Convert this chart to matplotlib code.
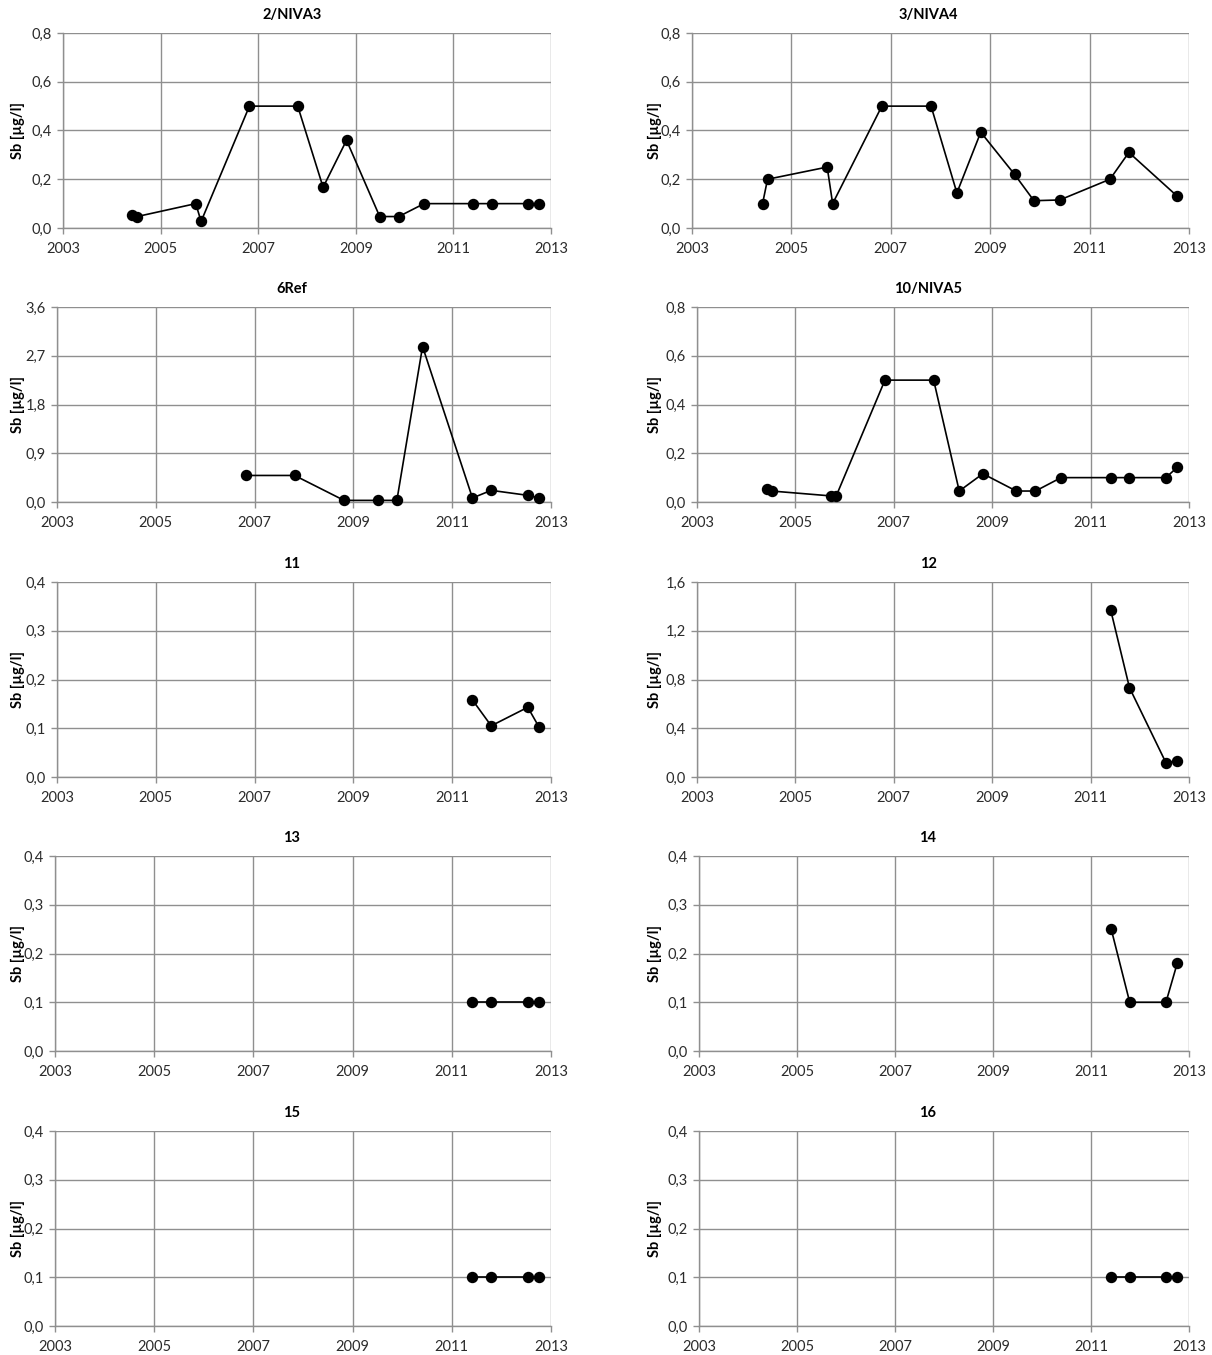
import numpy as np
import matplotlib
matplotlib.use("Agg")
import matplotlib.pyplot as plt
from matplotlib.ticker import FixedLocator, FuncFormatter

plt.rcParams['font.family'] = ['Lato', 'DejaVu Sans']

# sampling campaigns as decimal years
dates = [2004.42, 2004.52, 2005.72, 2005.83, 2006.82, 2007.81, 2008.33, 2008.81,
         2009.49, 2009.88, 2010.40, 2011.41, 2011.79, 2012.53, 2012.76]

N = None
niva3 = [0.055, 0.047, 0.10, 0.027, 0.50, 0.50, 0.167, 0.36, 0.047, 0.047, 0.10, 0.10, 0.10, 0.10, 0.10]
niva4 = [0.10, 0.20, 0.25, 0.10, 0.50, 0.50, 0.144, 0.393, 0.22, 0.112, 0.115, 0.20, 0.31, N, 0.131]
ref6 = [N, N, N, N, 0.49, 0.49, N, 0.03, 0.03, 0.03, 2.87, 0.074, 0.215, 0.123, 0.074]
niva5 = [0.055, 0.045, 0.025, 0.025, 0.50, 0.50, 0.045, 0.116, 0.045, 0.045, 0.10, 0.10, 0.10, 0.10, 0.142]
st11 = [N] * 11 + [0.158, 0.105, 0.143, 0.102]
st12 = [N] * 11 + [1.367, 0.733, 0.118, 0.132]
st13 = [N] * 11 + [0.10, 0.10, 0.10, 0.10]
st14 = [N] * 11 + [0.251, 0.10, 0.10, 0.18]
st15 = [N] * 11 + [0.10, 0.10, 0.10, 0.10]
st16 = [N] * 11 + [0.10, 0.10, 0.10, 0.10]

titles = ['2/NIVA3', '3/NIVA4', '6Ref', '10/NIVA5', '11', '12', '13', '14', '15', '16']
series = [niva3, niva4, ref6, niva5, st11, st12, st13, st14, st15, st16]
y_max = [0.8, 0.8, 3.6, 0.8, 0.4, 1.6, 0.4, 0.4, 0.4, 0.4]
y_step = [0.2, 0.2, 0.9, 0.2, 0.1, 0.4, 0.1, 0.1, 0.1, 0.1]
year_ticks = [2003, 2005, 2007, 2009, 2011, 2013]

W, H = 1212, 1355
fig = plt.figure(figsize=(W / 100, H / 100), dpi=100)

# plot areas in pixels: left, top, right, bottom
boxes = [(63, 33, 551, 228), (692, 33, 1189, 228),
         (57, 307, 551, 502), (697, 307, 1189, 502),
         (57, 582, 551, 777), (697, 582, 1189, 777),
         (55, 856, 551, 1051), (699, 856, 1189, 1051),
         (55, 1131, 551, 1326), (699, 1131, 1189, 1326)]
title_x = [292, 928]
label_x = [18, 655]

grid_col = '#8f8f8f'
text_col = '#2b2b2b'

for i, (l, t, r, b) in enumerate(boxes):
    ax = fig.add_axes([l / W, 1 - b / H, (r - l) / W, (b - t) / H])
    vals = series[i]
    xs = [d for d, v in zip(dates, vals) if v is not None]
    ys = [v for v in vals if v is not None]
    ax.plot(xs, ys, color='black', lw=1.2, marker='o', markersize=7.2,
            markerfacecolor='black', markeredgecolor='black', clip_on=False, zorder=5)

    ax.set_xlim(2003, 2013)
    ax.set_ylim(0, y_max[i])
    ax.xaxis.set_major_locator(FixedLocator(year_ticks))
    yt = np.round(np.arange(0, y_max[i] + y_step[i] / 2, y_step[i]), 2)
    ax.yaxis.set_major_locator(FixedLocator(yt))
    ax.yaxis.set_major_formatter(FuncFormatter(lambda v, p: f'{v:.1f}'.replace('.', ',')))
    ax.xaxis.set_major_formatter(FuncFormatter(lambda v, p: f'{int(round(v))}'))

    ax.grid(True, color=grid_col, lw=1.0)
    ax.set_axisbelow(True)
    for s in ['top', 'right']:
        ax.spines[s].set_visible(False)
    for s in ['left', 'bottom']:
        ax.spines[s].set_color(grid_col)
        ax.spines[s].set_linewidth(1.0)
    ax.tick_params(axis='both', direction='out', length=4, width=1.0, color=grid_col,
                   labelsize=10.5, labelcolor=text_col)
    ax.tick_params(axis='x', pad=6)
    ax.tick_params(axis='y', pad=4)

    col = i % 2
    yc = 1 - ((t + b) / 2) / H
    fig.text(label_x[col] / W, yc, 'Sb [µg/l]', rotation=90, ha='center', va='center',
             fontsize=10.5, fontweight='bold', color='black')
    fig.text(title_x[col] / W, 1 - (t - 18) / H, titles[i], ha='center', va='center',
             fontsize=10.5, fontweight='bold', color='black')

fig.savefig('out.png', dpi=100, facecolor='white')
